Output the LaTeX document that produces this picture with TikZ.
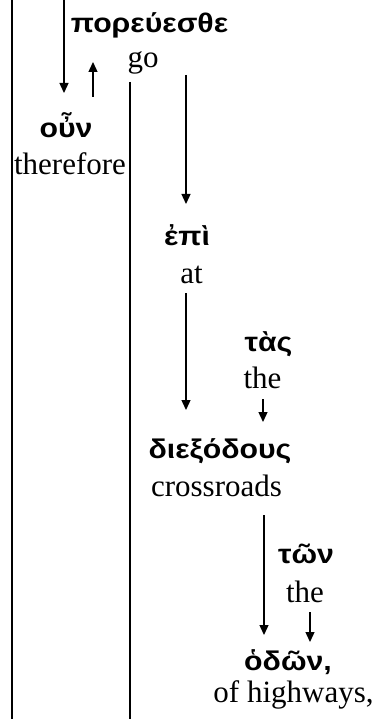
\documentclass[tikz,border=0pt]{standalone}
\usepackage{fontspec}
\setmainfont{Liberation Serif}
\newfontfamily\grk[FakeStretch=1.12]{Liberation Sans}
\usetikzlibrary{arrows.meta}

\tikzset{
  gr/.style={font=\grk\bfseries\fontsize{27}{31}\selectfont, inner sep=0pt, anchor=base},
  en/.style={font=\fontsize{31}{36}\selectfont, inner sep=0pt, anchor=base},
  arr/.style={line width=1.3pt, -{Triangle[length=10pt,width=9pt]}},
  ln/.style={line width=1.3pt}
}

\begin{document}
\begin{tikzpicture}[x=1pt,y=-1pt]
\useasboundingbox (0,0) rectangle (377,719);
% words
\node[gr] (poreu) at (149.5,33) {πορεύεσθε};
\node[en] (go) at (143,68) {go};
\node[gr] (oun) at (66,138) {οὖν};
\node[en] (therefore) at (70,175) {therefore};
\node[gr] (epi) at (187,245) {ἐπὶ};
\node[en] (at) at (191.5,283) {at};
\node[gr] (tas) at (268.5,351) {τὰς};
\node[en] (thea) at (262.5,388) {the};
\node[gr] (diex) at (220,458) {διεξόδους};
\node[en] (cross) at (216.5,496) {crossroads};
\node[gr] (twn) at (306,563) {τῶν};
\node[en] (theb) at (305,602) {the};
\node[gr] (hodwn) at (288,670) {ὁδῶν,};
\node[en] (highways) at (293.5,702) {of highways,};
% line ends
\coordinate (l1a) at (12,0);
\coordinate (l1b) at (12,719);
\coordinate (l2a) at (130,82);
\coordinate (l2b) at (130,719);
\coordinate (t1) at (64,0);
\coordinate (t2) at (64,93);
\coordinate (u1) at (93,97);
\coordinate (u2) at (93,62);
\coordinate (g1) at (186,75);
\coordinate (g2) at (186,204);
\coordinate (e1) at (186,293);
\coordinate (e2) at (186,410);
\coordinate (s1) at (263,399);
\coordinate (s2) at (263,422);
\coordinate (d1) at (264,515);
\coordinate (d2) at (264,635);
\coordinate (w1) at (310,612);
\coordinate (w2) at (310,642);
% lines
\draw[ln] (l1a) -- (l1b);
\draw[ln] (l2a) -- (l2b);
\draw[arr] (t1) -- (t2);
\draw[arr] (u1) -- (u2);
\draw[arr] (g1) -- (g2);
\draw[arr] (e1) -- (e2);
\draw[arr] (s1) -- (s2);
\draw[arr] (d1) -- (d2);
\draw[arr] (w1) -- (w2);
\end{tikzpicture}
\end{document}
